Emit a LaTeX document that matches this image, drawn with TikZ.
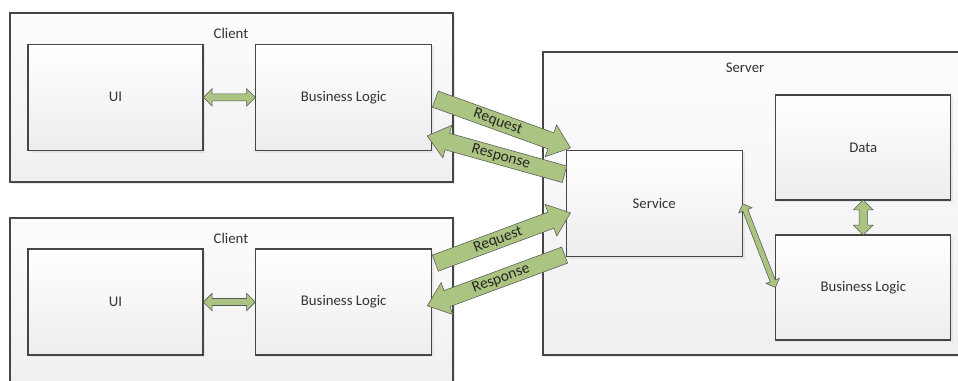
\documentclass[tikz,border=0pt]{standalone}
\usepackage{fontspec}
\setmainfont{Carlito}
\usepackage{xcolor}
\usetikzlibrary{shapes.arrows, shadows, calc}
\definecolor{boxline}{RGB}{70,70,70}
\definecolor{msggreen}{RGB}{172,196,130}
\tikzset{
  tier/.style={rectangle, draw=boxline, line width=0.8pt, top color=black!1,
    bottom color=black!6, drop shadow={shadow xshift=0.6mm, shadow yshift=-0.6mm,
    fill=black!12, opacity=0.7}},
  part/.style={rectangle, draw=boxline, line width=0.8pt, top color=white,
    bottom color=black!7, text=black!80, font=\fontsize{10.5}{12}\selectfont,
    minimum width=44mm, minimum height=26.5mm,
    drop shadow={shadow xshift=0.6mm, shadow yshift=-0.6mm, fill=black!12, opacity=0.7}},
  title/.style={text=black!80, font=\fontsize{10.5}{12}\selectfont},
  msg/.style={single arrow, draw=black!65, fill=msggreen, sloped,
    single arrow head extend=2.1mm, single arrow tip angle=78,
    inner xsep=1pt, inner ysep=1.1pt, text height=1.6ex, text depth=0.4ex,
    text=black!85, font=\fontsize{11}{12}\selectfont},
  link/.style={double arrow, draw=black!65, fill=msggreen, sloped,
    double arrow head extend=1.3mm, inner xsep=0pt, inner ysep=0.8mm}
}

\begin{document}
\begin{tikzpicture}[x=0.25mm, y=-0.25mm]
  \useasboundingbox (0,0) rectangle (958,380);
  \clip (0,0) rectangle (958,380);

  % the two clients
  \node[tier, minimum width=110.75mm, minimum height=42.25mm] (client1) at (231.5,97.5) {};
  \node[title] (client1title) at (231,33) {Client};
  \node[part, minimum width=43.75mm] (ui1) at (115.5,97.3) {UI};
  \node[part] (bl1) at (343.7,97.3) {Business Logic};

  \node[tier, minimum width=110.75mm, minimum height=42.25mm] (client2) at (231.5,302.5) {};
  \node[title] (client2title) at (231,238) {Client};
  \node[part, minimum width=43.75mm] (ui2) at (115.5,302) {UI};
  \node[part] (bl2) at (343.7,302) {Business Logic};

  % the server
  \node[tier, minimum width=106.75mm, minimum height=75.75mm] (server) at (756.5,203.5) {};
  \node[title] (servertitle) at (745,68) {Server};
  \node[part, minimum width=43.7mm, minimum height=26.25mm] (data) at (863.3,147.5) {Data};
  \node[part] (service) at (654.2,203.7) {Service};
  \node[part, minimum width=43.7mm, minimum height=26.25mm] (bls) at (863.3,287.5) {Business Logic};

  % inner links
  \path (ui1.east) -- node[link, minimum height=13mm] {} (bl1.west);
  \path (ui2.east) -- node[link, minimum height=13mm] {} (bl2.west);
  \path (data.south) -- node[link, inner ysep=1mm, double arrow head extend=1.4mm,
    minimum height=8.75mm] {} (bls.north);
  \path let \p1=(service.east), \p2=(bls.west), \n1={veclen(\x2-\x1,\y2-\y1)} in
    (\p1) -- node[link, inner ysep=0.6mm, double arrow head extend=1.1mm,
      minimum height=\n1] {} (\p2);

  % requests and responses
  \path let \p1=([xshift=-0.5mm]bl1.east), \p2=([yshift=1mm]service.north west),
      \n1={veclen(\x2-\x1,\y2-\y1)} in
    (\p1) -- node[msg, minimum height=\n1] {Request} (\p2);
  \path let \p1=([yshift=-10mm]bl1.east), \p2=([xshift=1mm, yshift=7mm]service.west),
      \n1={veclen(\x2-\x1,\y2-\y1)} in
    (\p1) -- node[msg, shape border rotate=180, minimum height=\n1] {Response} (\p2);
  \path let \p1=([xshift=-0.5mm, yshift=9.25mm]bl2.east), \p2=([yshift=-2.75mm]service.west),
      \n1={veclen(\x2-\x1,\y2-\y1)} in
    (\p1) -- node[msg, minimum height=\n1] {Request} (\p2);
  \path let \p1=([yshift=-0.5mm]bl2.east), \p2=([xshift=1mm, yshift=1mm]service.south west),
      \n1={veclen(\x2-\x1,\y2-\y1)} in
    (\p1) -- node[msg, shape border rotate=180, minimum height=\n1] {Response} (\p2);
\end{tikzpicture}
\end{document}
